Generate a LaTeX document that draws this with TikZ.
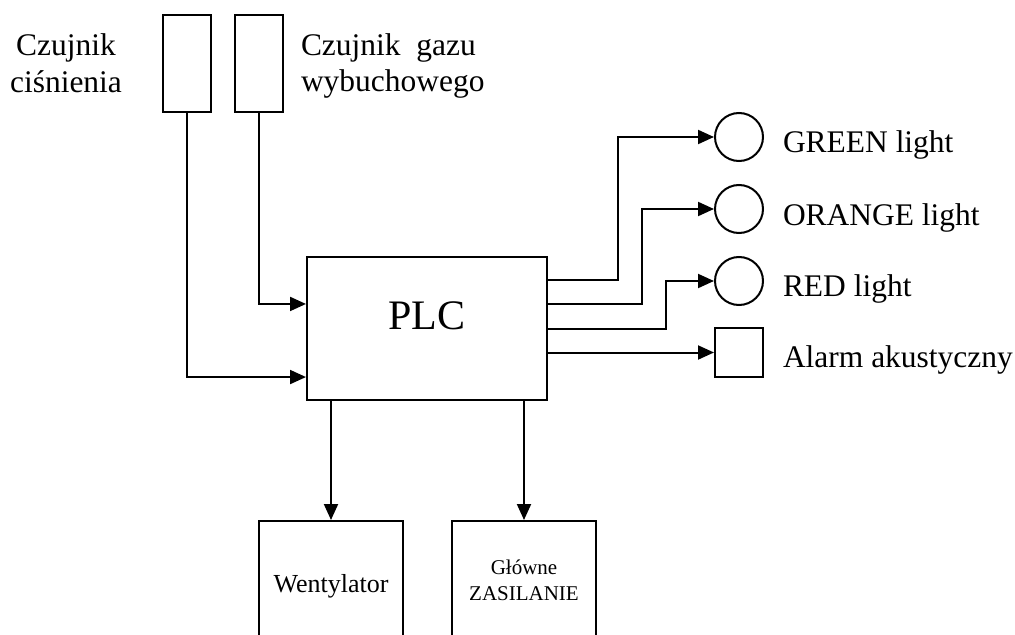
\documentclass[tikz,border=0pt]{standalone}
\usepackage{fontspec}
\setmainfont{Liberation Serif}
\usetikzlibrary{arrows.meta}

\begin{document}
\begin{tikzpicture}[x=0.75pt, y=-0.75pt, line width=1.5pt,
    box/.style={draw, rectangle, inner sep=0pt},
    lamp/.style={draw, circle, minimum size=36pt, inner sep=0pt},
    arr/.style={-{Triangle[length=12pt, width=10.5pt]}},
    lbl/.style={font=\fontsize{23.6}{27.5}\selectfont, inner sep=0pt}]
    \clip (0,0) rectangle (1015,635);
    % czujniki
    \node[box, minimum width=36pt, minimum height=72.75pt] (cisn) at (187,63.5) {};
    \node[box, minimum width=36pt, minimum height=72.75pt] (gaz) at (259,63.5) {};
    \node[lbl, align=center] (cisntxt) at (66,63) {Czujnik\\ciśnienia};
    \node[lbl, align=left, anchor=west] (gaztxt) at (300,66) {Czujnik~~gazu\\wybuchowego};
    % sterownik
    \node[box, minimum width=180pt, minimum height=107.25pt] (plc) at (427,328.5) {};
    \node[font=\fontsize{31.5}{36}\selectfont, inner sep=0pt] (plctxt) at (427,316) {PLC};
    % sygnalizacja
    \node[lamp] (green) at (739,137) {};
    \node[lamp] (orange) at (739,209) {};
    \node[lamp] (red) at (739,281) {};
    \node[box, minimum width=36pt, minimum height=36.75pt] (alarm) at (739,352.5) {};
    \node[lbl, anchor=base west] (greentxt) at (782,152.7) {GREEN light};
    \node[lbl, anchor=base west] (orangetxt) at (782,225) {ORANGE light};
    \node[lbl, anchor=base west] (redtxt) at (782,296) {RED light};
    \node[lbl, anchor=base west] (alarmtxt) at (782,367) {Alarm akustyczny};
    % wyjscia dolne
    \node[box, minimum width=108pt, minimum height=97.5pt, font=\fontsize{19.5}{23}\selectfont] (went) at (331,586) {Wentylator};
    \node[box, minimum width=108pt, minimum height=88.5pt, align=center, font=\fontsize{15.75}{19.5}\selectfont] (zasil) at (524,580) {Główne\\ZASILANIE};
    % polaczenia
    \draw[arr] (cisn.south) |- ([yshift=-36.4pt]plc.west);
    \draw[arr] (gaz.south) |- ([yshift=18.4pt]plc.west);
    \draw[arr] ([yshift=36.4pt]plc.east) -| ([xshift=-72pt]green.west) -- (green.west);
    \draw[arr] ([yshift=18.2pt]plc.east) -| ([xshift=-54pt]orange.west) -- (orange.west);
    \draw[arr] (plc.east) -| ([xshift=-36pt]red.west) -- (red.west);
    \draw[arr] (plc.east |- alarm.west) -- (alarm.west);
    \draw[arr] (plc.south -| went.north) -- (went.north);
    \draw[arr] (plc.south -| zasil.north) -- (zasil.north);
\end{tikzpicture}
\end{document}
